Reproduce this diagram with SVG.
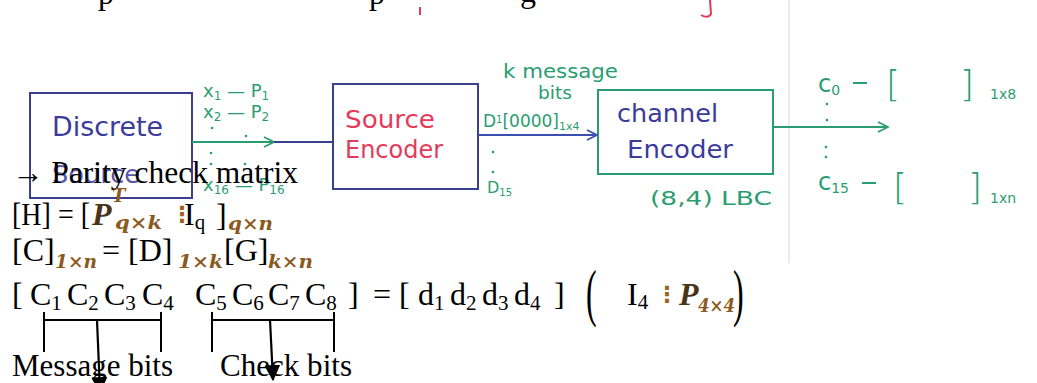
<svg xmlns="http://www.w3.org/2000/svg" width="1037" height="383" viewBox="0 0 1037 383">
<style>
.t{font-family:"Liberation Serif","Times New Roman",serif;font-size:32px;fill:#000}
.sb{font-size:21px}
.m{font-family:"Liberation Serif",serif;font-weight:bold;font-style:italic;fill:#4a3418}
.ms{font-family:"DejaVu Serif",serif;font-weight:bold;font-style:italic;font-size:18px;fill:#8a5a20}
.h{font-family:"DejaVu Sans","Noto Sans",sans-serif}
.blue{fill:#3b3b9c}
.grn{fill:#2a9d70}
.red{fill:#e63a5a}
.bx{fill:none;stroke-width:2}
.ln{fill:none;stroke-width:1.8}
.br{fill:none;stroke:#000;stroke-width:2}
</style>
<defs>
<marker id="chevG" viewBox="0 0 12 12" refX="11" refY="6" markerWidth="12" markerHeight="12" markerUnits="userSpaceOnUse" orient="auto"><path d="M1,1 L11,6 L1,11" fill="none" stroke="#2a9d70" stroke-width="1.8"/></marker>
<marker id="chevB" viewBox="0 0 12 12" refX="11" refY="6" markerWidth="12" markerHeight="12" markerUnits="userSpaceOnUse" orient="auto"><path d="M1,1 L11,6 L1,11" fill="none" stroke="#3b4fb0" stroke-width="1.8"/></marker>
<marker id="tri" viewBox="0 0 14 14" refX="13" refY="7" markerWidth="16" markerHeight="16" markerUnits="userSpaceOnUse" orient="auto"><path d="M0,0 L14,7 L0,14 Z" fill="#000"/></marker>
</defs>
<rect width="1037" height="383" fill="#fff"/>

<g id="top-fragments">
<text class="t" x="98" y="4" font-size="36px">p</text>
<text class="t" x="369" y="4" font-size="36px">p</text>
<text class="t" x="520" y="2" font-size="36px">g</text>
<line x1="420" y1="7" x2="420" y2="15" stroke="#e63a5a" stroke-width="2"/>
<path d="M710,0 L711,14 Q708,19 701,15" fill="none" stroke="#e63a5a" stroke-width="2"/>
</g>

<line x1="789" y1="0" x2="789" y2="263" stroke="#e4e4e4" stroke-width="1.5"/>

<g id="node-discrete-source">
<rect class="bx" x="30" y="93" width="162" height="105" stroke="#3a3f8f"/>
<text class="h blue" x="52" y="136" font-size="26" textLength="111" lengthAdjust="spacingAndGlyphs">Discrete</text>
<text class="h blue" x="52" y="183" font-size="24" textLength="88" lengthAdjust="spacingAndGlyphs" opacity="0.85">Source</text>
</g>

<g id="node-source-encoder">
<rect class="bx" x="333" y="84" width="145" height="105" stroke="#3a3f8f"/>
<text class="h red" x="345" y="128" font-size="24" textLength="90" lengthAdjust="spacingAndGlyphs">Source</text>
<text class="h red" x="345" y="158" font-size="24" textLength="98" lengthAdjust="spacingAndGlyphs">Encoder</text>
</g>

<g id="node-channel-encoder">
<rect class="bx" x="598" y="90" width="175" height="84" stroke="#2a9d70"/>
<text class="h blue" x="617" y="122" font-size="24" textLength="101" lengthAdjust="spacingAndGlyphs">channel</text>
<text class="h blue" x="627" y="158" font-size="24" textLength="106" lengthAdjust="spacingAndGlyphs">Encoder</text>
<text class="h grn" x="650" y="205" font-size="20" textLength="122" lengthAdjust="spacingAndGlyphs">(8,4) LBC</text>
</g>

<g id="connectors">
<line class="ln" x1="192" y1="142" x2="274" y2="142" stroke="#2a9d70" marker-end="url(#chevG)"/>
<line class="ln" x1="274" y1="142" x2="333" y2="142" stroke="#3a3f8f"/>
<line class="ln" x1="478" y1="135" x2="597" y2="135" stroke="#3b4fb0" marker-end="url(#chevB)"/>
<line class="ln" x1="773" y1="127" x2="888" y2="127" stroke="#2a9d70" marker-end="url(#chevG)"/>
</g>

<g id="labels-source-outputs" class="h grn">
<text x="203" y="97" font-size="18">x<tspan font-size="12" dy="3">1</tspan><tspan dy="-3"> — P</tspan><tspan font-size="12" dy="3">1</tspan></text>
<text x="203" y="118" font-size="18">x<tspan font-size="12" dy="3">2</tspan><tspan dy="-3"> — P</tspan><tspan font-size="12" dy="3">2</tspan></text>
<text x="203" y="191" font-size="18">x<tspan font-size="12" dy="3">16</tspan><tspan dy="-3"> — P</tspan><tspan font-size="12" dy="3">16</tspan></text>
<circle cx="212" cy="128" r="1.3"/><circle cx="246" cy="136" r="1.3"/>
<circle cx="211" cy="153" r="1.3"/><circle cx="211" cy="164" r="1.3"/><circle cx="245" cy="164" r="1.3"/>
</g>

<g id="labels-message" class="h grn">
<text x="503" y="78" font-size="20" textLength="115" lengthAdjust="spacingAndGlyphs">k message</text>
<text x="538" y="99" font-size="18" textLength="34" lengthAdjust="spacingAndGlyphs">bits</text>
<text x="483" y="127" font-size="17">D<tspan font-size="10" dy="-4">1</tspan><tspan dy="4">[0000]</tspan><tspan font-size="11" dy="3">1x4</tspan></text>
<circle cx="493" cy="152" r="1.3"/><circle cx="493" cy="172" r="1.3"/>
<text x="487" y="193" font-size="16">D<tspan font-size="10" dy="3">15</tspan></text>
</g>

<g id="labels-codewords" class="h grn">
<text x="818" y="92" font-size="24">c<tspan font-size="14" dy="3">0</tspan></text>
<line x1="853" y1="83" x2="867" y2="83" stroke="#2a9d70" stroke-width="2"/>
<text x="886" y="96" font-size="36" font-weight="200">[</text>
<text x="960" y="96" font-size="36" font-weight="200">]</text>
<text x="990" y="99" font-size="14">1x8</text>
<circle cx="827" cy="104" r="1.3"/><circle cx="827" cy="120" r="1.3"/>
<circle cx="826" cy="147" r="1.3"/><circle cx="826" cy="157" r="1.3"/>
<text x="818" y="190" font-size="24">c<tspan font-size="14" dy="3">15</tspan></text>
<line x1="862" y1="183" x2="876" y2="183" stroke="#2a9d70" stroke-width="2"/>
<text x="893" y="199" font-size="36" font-weight="200">[</text>
<text x="968" y="199" font-size="36" font-weight="200">]</text>
<text x="990" y="203" font-size="14">1xn</text>
</g>

<g id="equations">
<text class="t" x="12" y="183" textLength="286" lengthAdjust="spacingAndGlyphs">→ Parity check matrix</text>

<text class="t" x="12" y="225" textLength="78" lengthAdjust="spacingAndGlyphs">[H] = [</text>
<text class="m" x="92" y="225" font-size="32">P</text>
<text class="ms" x="112" y="202" font-size="15">T</text>
<text class="ms" x="115" y="229" textLength="47" lengthAdjust="spacingAndGlyphs">q×k</text>
<text x="171" y="222" font-family="DejaVu Sans,sans-serif" font-weight="bold" font-size="22" fill="#a0601a">⋮</text>
<text class="t" x="184" y="225">I<tspan class="sb" dy="4">q</tspan></text>
<text class="t" x="216" y="226">]</text>
<text class="ms" x="228" y="230" textLength="45" lengthAdjust="spacingAndGlyphs">q×n</text>

<text class="t" x="12" y="261">[C]</text>
<text class="ms" x="55" y="268" textLength="42" lengthAdjust="spacingAndGlyphs">1×n</text>
<text class="t" x="102" y="261">= [D]</text>
<text class="ms" x="178" y="268" textLength="45" lengthAdjust="spacingAndGlyphs">1×k</text>
<text class="t" x="224" y="261">[G]</text>
<text class="ms" x="268" y="268" textLength="45" lengthAdjust="spacingAndGlyphs">k×n</text>

<text class="t" x="12" y="305">[</text>
<text class="t" x="30" y="305">C<tspan class="sb" dy="5">1</tspan></text>
<text class="t" x="67" y="305">C<tspan class="sb" dy="5">2</tspan></text>
<text class="t" x="104" y="305">C<tspan class="sb" dy="5">3</tspan></text>
<text class="t" x="142" y="305">C<tspan class="sb" dy="5">4</tspan></text>
<text class="t" x="195" y="305">C<tspan class="sb" dy="5">5</tspan></text>
<text class="t" x="232" y="305">C<tspan class="sb" dy="5">6</tspan></text>
<text class="t" x="268" y="305">C<tspan class="sb" dy="5">7</tspan></text>
<text class="t" x="305" y="305">C<tspan class="sb" dy="5">8</tspan></text>
<text class="t" x="348" y="305">]</text>
<text class="t" x="373" y="305">= [</text>
<text class="t" x="418" y="305">d<tspan class="sb" dy="5">1</tspan></text>
<text class="t" x="450" y="305">d<tspan class="sb" dy="5">2</tspan></text>
<text class="t" x="482" y="305">d<tspan class="sb" dy="5">3</tspan></text>
<text class="t" x="514" y="305">d<tspan class="sb" dy="5">4</tspan></text>
<text class="t" x="554" y="305">]</text>
<text class="t" transform="translate(586,314) scale(1,2)" x="0" y="0" font-size="28px">(</text>
<text class="t" x="627" y="305">I<tspan class="sb" dy="4">4</tspan></text>
<text x="656" y="302" font-family="DejaVu Sans,sans-serif" font-weight="bold" font-size="22" fill="#a0601a">⋮</text>
<text class="m" x="679" y="305" font-size="32">P</text>
<text class="ms" x="698" y="312" font-family="DejaVu Sans,sans-serif" font-style="normal" textLength="37" lengthAdjust="spacingAndGlyphs">4×4</text>
<text class="t" transform="translate(733,314) scale(1,2)" x="0" y="0" font-size="28px">)</text>

<path class="br" d="M44,312 V352 M161,312 V352 M44,320 H161 M212,312 V352 M334,312 V352 M212,320 H334"/>
<line x1="97" y1="320" x2="100" y2="392" stroke="#000" stroke-width="2.2" marker-end="url(#tri)"/>
<line x1="270" y1="320" x2="273" y2="380" stroke="#000" stroke-width="2.2" marker-end="url(#tri)"/>

<text class="t" x="12" y="376" textLength="161" lengthAdjust="spacingAndGlyphs">Message bits</text>
<text class="t" x="220" y="376" textLength="132" lengthAdjust="spacingAndGlyphs">Check bits</text>
</g>
</svg>
